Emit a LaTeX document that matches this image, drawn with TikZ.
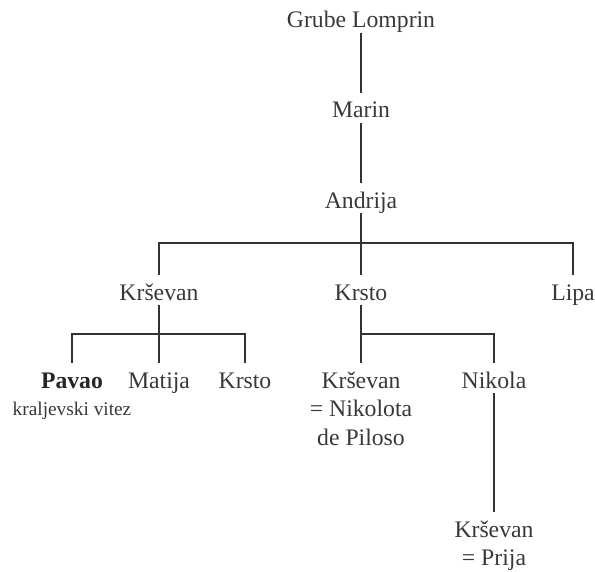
\documentclass[tikz,border=0pt]{standalone}
\usepackage{fontspec}
\setmainfont{Liberation Serif}
\begin{document}
\begin{tikzpicture}[x=1bp,y=-1bp,
  person/.style={inner sep=0pt, text height=25bp, text depth=5bp, anchor=base,
    font=\fontsize{23.8}{28}\selectfont, text=black!78},
  noteline/.style={inner sep=0pt, anchor=base, font=\fontsize{19.4}{23}\selectfont, text=black!78},
  link/.style={draw=black!80, line width=2.6bp}]
\useasboundingbox (0,0) rectangle (595,572);
\node[person] (grube) at (361,28) {Grube Lomprin};
\node[person] (marin) at (361,118) {Marin};
\node[person] (andrija) at (361,208) {Andrija};
\node[person] (krs) at (159,300) {Krševan};
\node[person] (krsto) at (361,300) {Krsto};
\node[person] (lipa) at (573,300) {Lipa};
\node[person, font=\fontsize{23.8}{28}\selectfont\bfseries, text=black!85] (pavao) at (72,388) {Pavao};
\node[noteline] (vitez) at (72,415) {kraljevski vitez};
\node[person] (matija) at (159,388) {Matija};
\node[person] (krsto2) at (245,388) {Krsto};
\node[person] (kn1) at (361,388) {Krševan};
\node[person] (kn2) at (361,416) {= Nikolota};
\node[person] (kn3) at (361,445) {de Piloso};
\node[person] (nikola) at (494,388) {Nikola};
\node[person] (kp1) at (494,537) {Krševan};
\node[person] (kp2) at (494,565) {= Prija};
\coordinate (bar1) at (361,243);
\coordinate (bar2) at (159,334);
\coordinate (bar3) at (361,334);
\draw[link] (grube.south) -- (marin.north);
\draw[link] (marin.south) -- (andrija.north);
\draw[link] (andrija.south) -- (krsto.north);
\draw[link] (krs.north) -- (krs.north |- bar1) -- (lipa.north |- bar1) -- (lipa.north);
\draw[link] (krs.south) -- (matija.north);
\draw[link] (pavao.north) -- (pavao.north |- bar2) -- (krsto2.north |- bar2) -- (krsto2.north);
\draw[link] (krsto.south) -- (kn1.north);
\draw[link] (krsto.south |- bar3) -- (nikola.north |- bar3) -- (nikola.north);
\draw[link] (nikola.south) -- (kp1.north);
\end{tikzpicture}
\end{document}
